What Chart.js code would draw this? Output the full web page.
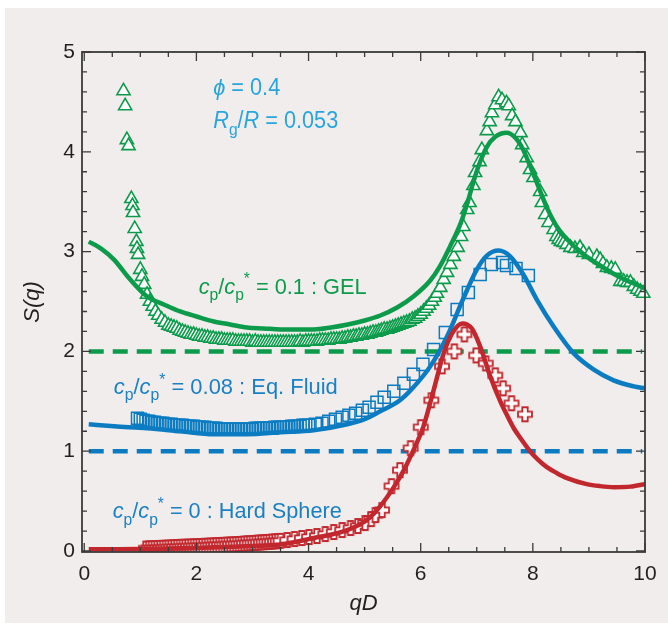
<!DOCTYPE html>
<html><head><meta charset="utf-8">
<script src="https://cdn.jsdelivr.net/npm/chart.js@4.4.1/dist/chart.umd.min.js"></script>
<style>html,body{margin:0;padding:0;background:#fff;}canvas{display:block;}</style>
</head><body>
<canvas id="c" width="668" height="627"></canvas>
<script>
// ---------- tick labels ----------
const xTicks = [0, 2, 4, 6, 8, 10];
const yTicks = [0, 1, 2, 3, 4, 5];

// ---------- theory curves ----------
const gelCurveX = [0.08,0.3,0.53,0.82,1.12,1.42,1.71,2.0,2.31,2.6,2.9,3.2,3.5,3.8,4.1,4.4,4.7,5.0,5.28,5.58,5.87,6.17,6.35,6.53,6.71,6.83,6.94,7.06,7.18,7.33,7.53,7.69,7.81,7.95,8.10,8.25,8.43,8.67,8.96,9.26,9.56,9.8,10.0];
const gelCurveY = [3.10,3.03,2.92,2.72,2.55,2.47,2.40,2.35,2.30,2.27,2.24,2.23,2.22,2.22,2.22,2.24,2.27,2.31,2.36,2.44,2.55,2.71,2.86,3.06,3.28,3.48,3.70,3.90,4.05,4.15,4.19,4.14,4.04,3.86,3.65,3.44,3.25,3.09,2.95,2.84,2.74,2.68,2.63];

const fluidCurveX = [0.08,0.53,1.12,1.71,2.31,2.9,3.5,4.09,4.69,5.0,5.28,5.63,5.87,6.17,6.47,6.76,7.0,7.18,7.39,7.6,7.83,8.07,8.37,8.73,9.08,9.44,9.8,10.0];
const fluidCurveY = [1.27,1.25,1.23,1.20,1.17,1.17,1.19,1.21,1.27,1.32,1.40,1.51,1.64,1.85,2.15,2.53,2.82,2.96,3.01,2.95,2.77,2.52,2.25,1.98,1.82,1.71,1.65,1.63];

const hsCurveX = [0.08,0.5,1.0,1.5,2.0,2.5,3.0,3.5,4.09,4.69,5.04,5.28,5.52,5.70,5.87,6.05,6.23,6.41,6.56,6.74,6.91,7.06,7.24,7.42,7.54,7.66,7.78,7.95,8.1,8.25,8.43,8.61,8.96,9.2,9.44,9.74,10.0];
const hsCurveY = [0.017,0.018,0.02,0.025,0.03,0.04,0.05,0.065,0.13,0.21,0.31,0.45,0.64,0.81,1.01,1.25,1.61,1.98,2.18,2.28,2.23,2.05,1.75,1.50,1.36,1.23,1.13,1.00,0.91,0.84,0.78,0.73,0.67,0.65,0.64,0.645,0.67];

// ---------- reference levels (dashed) ----------
const dashX = [0.08, 9.95];
const gelDashY = [2, 2];
const fluidDashY = [1, 1];

// ---------- measured data: GEL (triangles) ----------
const gelDataX = [0.70,0.73,0.76,0.79,0.84,0.86,0.87,0.90,0.93,0.94,0.96,1.00,1.03,1.07,1.12,1.17,1.22,1.27,1.32,1.38,1.44,1.50,
1.55,1.60,1.65,1.70,1.75,1.80,1.85,1.90,1.95,2.00,2.05,2.10,2.15,2.20,2.25,2.30,2.35,2.40,2.45,2.50,2.55,2.60,2.65,2.70,2.75,2.80,2.85,2.90,2.95,
3.00,3.05,3.10,3.15,3.20,3.25,3.30,3.35,3.40,3.45,3.50,3.55,3.60,3.65,3.70,3.75,3.80,3.85,3.90,3.95,4.00,4.05,4.10,4.15,4.20,4.25,4.30,4.35,4.40,4.45,
4.50,4.55,4.60,4.65,4.70,4.75,4.80,4.85,4.90,4.95,5.00,5.05,5.10,5.15,5.20,5.25,5.30,5.35,5.40,5.45,5.50,5.55,5.60,5.65,5.70,5.75,5.80,5.85,5.90,5.95,
6.00,6.05,6.10,6.15,6.20,6.25,
6.29,6.35,6.41,6.47,6.53,6.59,6.66,6.72,6.76,6.83,6.87,6.94,6.97,7.05,7.09,7.18,7.23,7.27,7.33,7.39,7.45,7.53,7.57,7.63,7.69,7.78,7.81,7.89,7.95,8.01,
8.13,8.16,8.22,8.28,8.37,8.42,8.46,8.50,8.55,8.60,8.67,8.75,8.84,8.90,9.00,9.14,9.20,9.25,9.32,9.40,9.47,9.56,9.62,9.68,9.74,9.80,9.86,9.92,9.97];
const gelDataY = [4.61,4.46,4.12,4.06,3.53,3.46,3.39,3.23,3.10,3.03,2.97,2.82,2.75,2.67,2.57,2.50,2.45,2.40,2.36,2.32,2.29,2.26,
2.25,2.24,2.23,2.21,2.20,2.19,2.18,2.17,2.17,2.16,2.15,2.15,2.14,2.14,2.13,2.13,2.12,2.12,2.12,2.11,2.11,2.11,2.11,2.10,2.10,2.10,2.10,2.10,2.10,
2.09,2.10,2.09,2.09,2.09,2.09,2.09,2.09,2.09,2.09,2.09,2.09,2.09,2.09,2.09,2.09,2.09,2.10,2.09,2.10,2.10,2.10,2.10,2.10,2.11,2.11,2.11,2.11,2.12,2.12,
2.12,2.12,2.13,2.13,2.14,2.14,2.15,2.15,2.16,2.16,2.17,2.17,2.18,2.19,2.19,2.20,2.21,2.22,2.22,2.23,2.24,2.25,2.26,2.27,2.28,2.29,2.30,2.32,2.33,2.35,
2.37,2.40,2.43,2.46,2.50,2.54,
2.58,2.64,2.72,2.79,2.87,2.95,3.04,3.15,3.25,3.42,3.49,3.66,3.79,3.90,4.02,4.21,4.30,4.39,4.47,4.55,4.52,4.49,4.46,4.36,4.30,4.19,4.07,3.94,3.82,3.74,
3.60,3.49,3.37,3.29,3.22,3.15,3.12,3.10,3.09,3.07,3.04,3.03,3.04,2.99,2.97,2.95,2.92,2.88,2.84,2.83,2.82,2.70,2.70,2.69,2.69,2.65,2.62,2.60,2.58];

// ---------- measured data: Eq. Fluid (squares) ----------
const fluidDataX = [0.95,1.00,1.05,1.10,1.15,1.20,1.25,1.30,1.35,1.40,1.45,1.50,1.55,1.60,1.65,1.70,1.75,1.80,1.85,1.90,1.95,
2.00,2.05,2.10,2.15,2.20,2.25,2.30,2.35,2.40,2.45,2.50,2.55,2.60,2.65,2.70,2.75,2.80,2.85,2.90,2.95,
3.00,3.05,3.10,3.15,3.20,3.25,3.30,3.35,3.40,3.45,3.50,3.55,3.60,3.65,3.70,3.75,3.80,3.85,3.90,3.95,4.00,
4.12,4.24,4.36,4.48,4.60,4.72,4.84,4.96,5.08,5.22,5.35,5.52,5.70,5.87,6.04,6.23,6.44,6.65,6.85,7.06,7.26,7.46,7.53,7.70,7.92];
const fluidDataY = [1.33,1.32,1.31,1.30,1.30,1.29,1.29,1.28,1.28,1.28,1.27,1.27,1.27,1.26,1.26,1.26,1.26,1.25,1.25,1.25,1.25,
1.24,1.24,1.24,1.24,1.23,1.23,1.23,1.23,1.22,1.22,1.22,1.22,1.22,1.22,1.22,1.22,1.22,1.22,1.22,1.22,
1.22,1.23,1.23,1.23,1.23,1.23,1.23,1.23,1.24,1.24,1.24,1.24,1.24,1.24,1.25,1.25,1.25,1.25,1.26,1.26,1.26,
1.27,1.28,1.30,1.32,1.34,1.36,1.38,1.41,1.44,1.49,1.54,1.60,1.68,1.77,1.87,2.02,2.19,2.42,2.59,2.77,2.87,2.89,2.86,2.83,2.76];

// ---------- measured data: Hard Sphere (crosses) ----------
const hsDataX = [1.10,1.15,1.20,1.25,1.30,1.35,1.40,1.45,1.50,1.55,1.60,1.65,1.70,1.75,1.80,1.85,1.90,1.95,
2.00,2.05,2.10,2.15,2.20,2.25,2.30,2.35,2.40,2.45,2.50,2.55,2.60,2.65,2.70,2.75,2.80,2.85,2.90,2.95,
3.00,3.05,3.10,3.15,3.20,3.25,3.30,3.35,3.40,3.45,3.50,
3.62,3.75,3.88,4.01,4.15,4.30,4.45,4.60,4.75,4.88,5.01,5.12,5.19,5.31,5.48,5.63,5.82,6.00,6.19,6.38,6.60,6.78,6.99,7.16,7.33,7.47,7.62,7.86];
const hsDataY = [0.025,0.026,0.027,0.028,0.029,0.031,0.032,0.033,0.035,0.036,0.038,0.039,0.041,0.042,0.043,0.044,0.045,0.047,
0.048,0.049,0.050,0.052,0.053,0.055,0.056,0.058,0.059,0.061,0.062,0.064,0.065,0.067,0.068,0.070,0.072,0.074,0.076,0.078,
0.080,0.082,0.084,0.086,0.088,0.090,0.092,0.094,0.097,0.099,0.102,
0.11,0.12,0.13,0.14,0.15,0.17,0.19,0.21,0.23,0.25,0.28,0.32,0.36,0.41,0.65,0.81,1.03,1.24,1.51,1.85,2.00,2.17,1.96,1.88,1.76,1.63,1.48,1.37];

// ---------- styling ----------
const GREEN = '#0c9b4b', BLUE = '#0b7cc1', RED = '#c1272d', CYAN = '#27a6de', LBLUE = '#1a80c4';
const AXIS = '#3a3a3a', PANEL = '#f1edec', TXT = '#231f20';
const FONT = '"Liberation Sans Narrow", "Liberation Sans", Arial, sans-serif';
const AFONT = '"Liberation Sans", Arial, sans-serif';

const pts = (xs, ys) => xs.map((x, i) => ({x, y: ys[i]}));

function makePlus() {
  const c = document.createElement('canvas'); c.width = 18; c.height = 18;
  const g = c.getContext('2d');
  const m = 9, h = 7, t = 2.7;
  g.beginPath();
  g.moveTo(m-t,m-h); g.lineTo(m+t,m-h); g.lineTo(m+t,m-t); g.lineTo(m+h,m-t); g.lineTo(m+h,m+t);
  g.lineTo(m+t,m+t); g.lineTo(m+t,m+h); g.lineTo(m-t,m+h); g.lineTo(m-t,m+t); g.lineTo(m-h,m+t);
  g.lineTo(m-h,m-t); g.lineTo(m-t,m-t); g.closePath();
  g.fillStyle = '#ffffff'; g.fill();
  g.strokeStyle = RED; g.lineWidth = 1.8; g.stroke();
  return c;
}
const plusImg = makePlus();

const curve = (data, color) => ({data, showLine: true, borderColor: color, borderWidth: 4.5,
  pointRadius: 0, tension: 0.4, cubicInterpolationMode: 'monotone', fill: false, order: 0});
const dash = (data, color) => ({data, showLine: true, borderColor: color, borderWidth: 4.5,
  borderDash: [15, 9], borderCapStyle: 'butt', pointRadius: 0, fill: false, order: 3});

const bgPlugin = {
  id: 'bg',
  beforeDraw(chart) {
    const ctx = chart.ctx; ctx.save();
    ctx.fillStyle = '#ffffff'; ctx.fillRect(0, 0, chart.width, chart.height);
    ctx.fillStyle = PANEL; ctx.fillRect(5, 8, chart.width - 5, chart.height - 12);
    ctx.restore();
  }
};

const framePlugin = {
  id: 'frame',
  afterDatasetsDraw(chart) {
    const {ctx, chartArea: a, scales: {x, y}} = chart;
    ctx.save();
    ctx.strokeStyle = AXIS; ctx.lineWidth = 1.3;
    ctx.beginPath();
    for (let i = 0; i <= 20; i++) {
      const v = i * 0.5, px = x.getPixelForValue(v), L = (i % 4 === 0) ? 9 : 5;
      ctx.moveTo(px, a.bottom); ctx.lineTo(px, a.bottom - L);
      ctx.moveTo(px, a.top); ctx.lineTo(px, a.top + L);
    }
    for (let i = 0; i <= 25; i++) {
      const v = i * 0.2, py = y.getPixelForValue(v), L = (i % 5 === 0) ? 9 : 5;
      ctx.moveTo(a.left, py); ctx.lineTo(a.left + L, py);
      ctx.moveTo(a.right, py); ctx.lineTo(a.right - L, py);
    }
    ctx.stroke();
    ctx.lineWidth = 1.8;
    ctx.strokeRect(a.left, a.top, a.right - a.left, a.bottom - a.top);
    ctx.restore();
  }
};

function drawRuns(ctx, x0, y0, runs, size, color, targetW) {
  const parts = runs.map(r => {
    const s = (r.sub || r.sup) ? size * 0.72 : size;
    const font = (r.it ? 'italic ' : '') + s + 'px ' + AFONT;
    ctx.font = font;
    return {r, font, w: ctx.measureText(r.t).width};
  });
  const total = parts.reduce((a, p) => a + p.w, 0);
  const k = targetW ? targetW / total : 1;
  ctx.save(); ctx.translate(x0, y0); ctx.scale(k, 1);
  ctx.fillStyle = color; ctx.textBaseline = 'alphabetic'; ctx.textAlign = 'left';
  let cx = 0;
  for (const p of parts) {
    ctx.font = p.font;
    const dy = p.r.sub ? size * 0.3 : (p.r.sup ? -size * 0.42 : 0);
    ctx.fillText(p.r.t, cx, dy);
    cx += p.w;
  }
  ctx.restore();
}

const cpRuns = (rest) => [{t:'c',it:1},{t:'p',sub:1},{t:'/'},{t:'c',it:1},{t:'p',sub:1},{t:'*',sup:1},{t:rest}];
const labels = [
  {x: 2.30, y: 4.574, runs: [{t:'\u03D5',it:1},{t:' = 0.4'}], color: CYAN, size: 23, w: 67},
  {x: 2.30, y: 4.240, runs: [{t:'R',it:1},{t:'g',sub:1},{t:'/'},{t:'R',it:1},{t:' = 0.053'}], color: CYAN, size: 23, w: 125},
  {x: 2.04, y: 2.578, runs: cpRuns(' = 0.1 : GEL'), color: GREEN, size: 22, w: 168},
  {x: 0.526, y: 1.575, runs: cpRuns(' = 0.08 : Eq. Fluid'), color: LBLUE, size: 22, w: 224},
  {x: 0.508, y: 0.328, runs: cpRuns(' = 0 : Hard Sphere'), color: LBLUE, size: 22, w: 229}
];
const textPlugin = {
  id: 'texts',
  afterDraw(chart) {
    const {ctx, scales: {x, y}} = chart;
    for (const l of labels) drawRuns(ctx, x.getPixelForValue(l.x), y.getPixelForValue(l.y), l.runs, l.size, l.color, l.w);
  }
};

new Chart(document.getElementById('c'), {
  type: 'scatter',
  data: {
    datasets: [
      dash(pts(dashX, gelDashY), GREEN),
      dash(pts(dashX, fluidDashY), BLUE),
      {data: pts(gelDataX, gelDataY), pointStyle: 'triangle', pointRadius: 7.6, pointBorderWidth: 1.6,
        pointBorderColor: GREEN, pointBackgroundColor: '#ffffff', showLine: false, order: 2, clip: false},
      {data: pts(fluidDataX, fluidDataY), pointStyle: 'rect', pointRadius: 8.5, pointBorderWidth: 1.5,
        pointBorderColor: BLUE, pointBackgroundColor: 'rgba(255,255,255,0)', showLine: false, order: 2},
      {data: pts(hsDataX, hsDataY), pointStyle: plusImg, pointRadius: 6, showLine: false, order: 2},
      curve(pts(hsCurveX, hsCurveY), RED),
      curve(pts(fluidCurveX, fluidCurveY), BLUE),
      curve(pts(gelCurveX, gelCurveY), GREEN)
    ]
  },
  options: {
    responsive: false, animation: false, events: [],
    layout: {padding: {left: 0, right: 23, top: 52, bottom: 0}},
    plugins: {legend: {display: false}, tooltip: {enabled: false}},
    scales: {
      x: {
        type: 'linear', min: -0.04, max: 10.0,
        grid: {display: false, drawTicks: false}, border: {display: false},
        afterBuildTicks: s => { s.ticks = xTicks.map(v => ({value: v})); },
        afterFit: s => { s.height = 75; },
        ticks: {padding: 10, color: TXT, font: {family: FONT, size: 21}, maxRotation: 0, autoSkip: false},
        title: {display: true, text: 'qD', color: TXT, font: {family: AFONT, size: 22, style: 'italic'}, padding: {top: 0, bottom: 10}}
      },
      y: {
        type: 'linear', min: -0.01, max: 5.0,
        grid: {display: false, drawTicks: false}, border: {display: false},
        afterBuildTicks: s => { s.ticks = yTicks.map(v => ({value: v})); },
        afterFit: s => { s.width = 82; },
        ticks: {padding: 7, color: TXT, font: {family: FONT, size: 21}, autoSkip: false},
        title: {display: true, text: 'S(q)', color: TXT, font: {family: AFONT, size: 22, style: 'italic'}, padding: {top: 20, bottom: 0}}
      }
    }
  },
  plugins: [bgPlugin, framePlugin, textPlugin]
});
</script>
</body></html>
